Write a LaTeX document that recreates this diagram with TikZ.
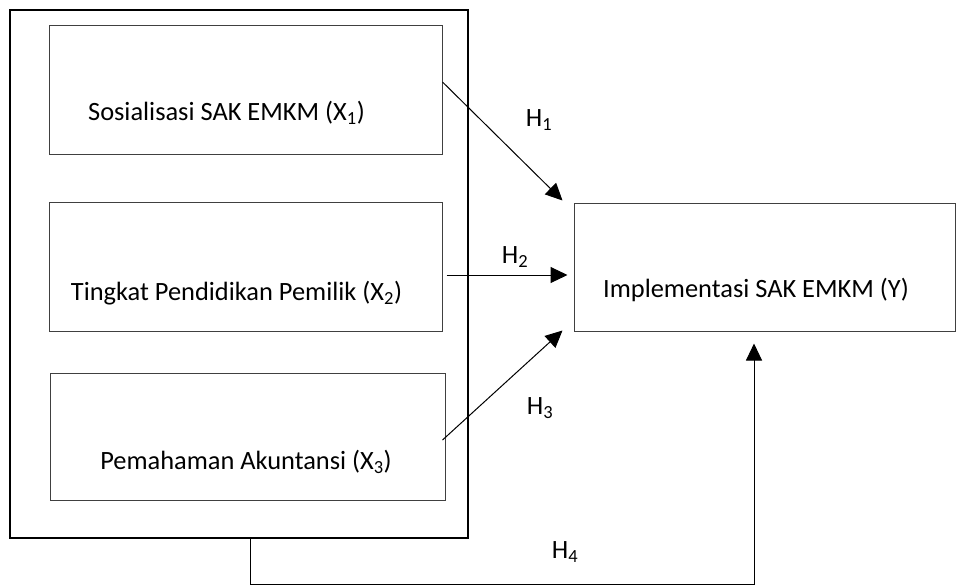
\documentclass[tikz,border=0pt]{standalone}
\usepackage{fontspec}
\setmainfont{Carlito}
\usetikzlibrary{arrows.meta,calc}
\begin{document}
\begin{tikzpicture}[x=1pt, y=-1pt,
    outer/.style={draw, line width=2.6pt, inner sep=0pt},
    varbox/.style={draw=black!75, line width=1pt, inner sep=0pt},
    lbl/.style={font=\fontsize{26.4}{30}\selectfont, inner sep=0pt},
    arr/.style={line width=1pt, -{Triangle[length=17pt, width=16pt]}}]
    \useasboundingbox (0,0) rectangle (957,584);
    \node[outer, minimum width=458pt, minimum height=528pt] (grp) at (239,274) {};
    \node[varbox, minimum width=393pt, minimum height=129pt] (x1) at (245.5,89.5) {};
    \node[varbox, minimum width=393pt, minimum height=129pt] (x2) at (245.5,266.5) {};
    \node[varbox, minimum width=395pt, minimum height=127pt] (x3) at (247.5,436.5) {};
    \node[varbox, minimum width=381pt, minimum height=128pt] (y) at (764.5,267) {};
    \node[lbl] (t1) at (226.5,113) {Sosialisasi SAK EMKM (X\textsubscript{1})};
    \node[lbl] (t2) at (236.5,293) {Tingkat Pendidikan Pemilik (X\textsubscript{2})};
    \node[lbl] (t3) at (246,462) {Pemahaman Akuntansi (X\textsubscript{3})};
    \node[lbl] (ty) at (756,290) {Implementasi SAK EMKM (Y)};
    \node[lbl] (h1) at (539,120) {H\textsubscript{1}};
    \node[lbl] (h2) at (515,257) {H\textsubscript{2}};
    \node[lbl] (h3) at (540,408) {H\textsubscript{3}};
    \node[lbl] (h4) at (565,552) {H\textsubscript{4}};
    % hypotheses
    \draw[arr] ($(x1.east)+(0,-7.5)$) -- ($(y.north west)+(-11,-2)$);
    \draw[arr] ($(x2.east)+(4,8.5)$) -- ($(y.west)+(-6,8)$);
    \draw[arr] ($(x3.east)+(-3,3.5)$) -- ($(y.south west)+(-11,-1)$);
    \draw[arr] ($(grp.south)+(11,0)$) -- ++(0,45) -| ($(y.south)+(-10.5,12)$);
\end{tikzpicture}
\end{document}
